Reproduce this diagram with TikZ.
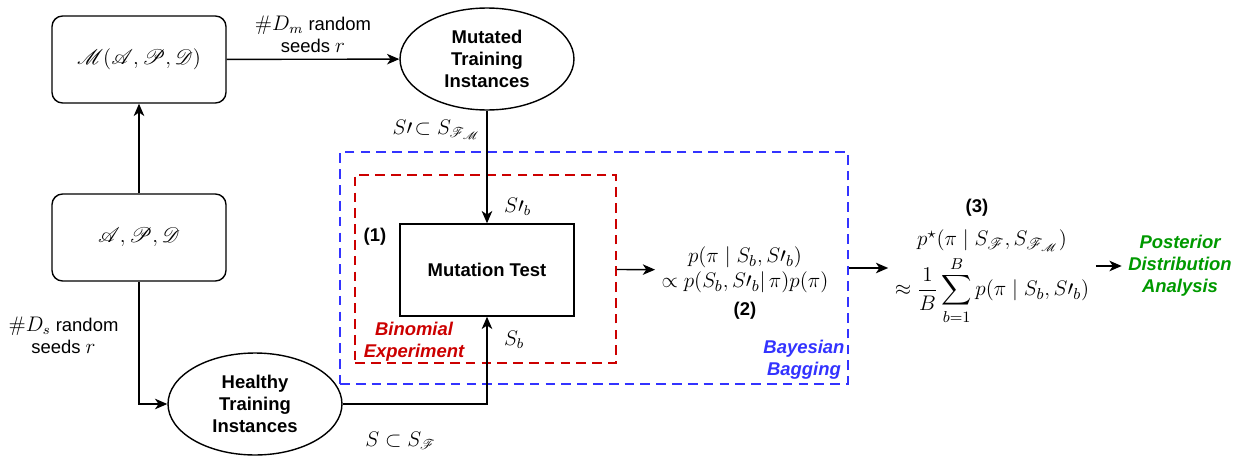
\documentclass[tikz,border=0pt]{standalone}
\usepackage{amsmath}
\usepackage{mathrsfs}
\usepackage[no-math]{fontspec}
\setmainfont{Liberation Sans}
\usetikzlibrary{shapes.geometric,positioning,arrows.meta}
\definecolor{bagblue}{RGB}{51,51,255}
\definecolor{binred}{RGB}{204,0,0}
\definecolor{postgreen}{RGB}{0,153,0}

\begin{document}
\begin{tikzpicture}[x=0.02cm,y=-0.02cm,>={Stealth[length=7pt,width=6pt,inset=2pt]},thick,
	font=\fontsize{10.5}{12.5}\selectfont,
	block/.style={draw,rounded corners=6pt,minimum width=3.48cm,minimum height=1.74cm,font=\fontsize{12.5}{15}\selectfont},
	inst/.style={draw,ellipse,minimum width=3.48cm,minimum height=2.04cm,inner sep=0pt,align=center,font=\fontsize{10.5}{12.5}\selectfont\bfseries},
	testbox/.style={draw,minimum width=3.48cm,minimum height=1.84cm,font=\fontsize{10.5}{12.5}\selectfont\bfseries},
	frame/.style={draw=#1,line width=1.1pt,dash pattern=on 5.5pt off 3.5pt},
	formula/.style={align=center,font=\fontsize{12.5}{15}\selectfont},
	tag/.style={font=\fontsize{10.5}{12.5}\selectfont\bfseries},
	frametext/.style={align=center,text=#1,font=\fontsize{10.5}{12.5}\selectfont\bfseries\itshape}]
	\useasboundingbox (0,0) rectangle (1252,460);
	
	\node[frame=bagblue,minimum width=10.16cm,minimum height=4.64cm] (bag) at (594,268) {};
	\node[frame=binred,minimum width=5.22cm,minimum height=3.76cm] (binom) at (485.5,269) {};
	
	\node[block] (mbox) at (139,59.5) {$\mathscr{M}(\mathscr{A},\mathscr{P},\mathscr{D})$};
	\node[block] (apd)  at (139,237.5) {$\mathscr{A},\mathscr{P},\mathscr{D}$};
	\node[inst]  (mut)  at (487,59) {Mutated\\Training\\Instances};
	\node[inst]  (healthy) at (255,404) {Healthy\\Training\\Instances};
	\node[testbox] (test) at (487,270) {Mutation Test};
	
	\node[formula] (post) at (745,270) {$p(\pi\mid S_b,S\prime_b)$\\[-1pt]$\propto p(S_b,S\prime_b|\,\pi)p(\pi)$};
	\node[formula] (bayes) at (992,277) {$p^\star(\pi\mid S_{\mathscr{F}},S_{\mathscr{F}_{\mathscr{M}}})$\\[2pt]$\approx\dfrac{1}{B}\displaystyle\sum_{b=1}^{B}p(\pi\mid S_b,S\prime_b)$};
	\node[frametext=postgreen] (pda) at (1180,266) {Posterior\\Distribution\\Analysis};
	
	\node[tag] (one)   at (375,237) {(1)};
	\node[tag] (two)   at (745,311) {(2)};
	\node[tag] (three) at (977,208) {(3)};
	\node[frametext=binred]  (binlab) at (414,342) {Binomial\\Experiment};
	\node[frametext=bagblue] (baglab) at (804,360) {Bayesian\\Bagging};
	
	\path[->] (apd) edge (mbox)
	(mbox) edge node[above,align=center] {{\large$\#D_m$} random\\seeds {\large$r$}} (mut)
	(mut) edge node[left,pos=0.17] {\large$S\prime\!\subset S_{\mathscr{F}_{\mathscr{M}}}$} node[right=6pt,pos=0.85] {\large$S\prime_b$} (test)
	(binom) edge (post)
	(bag.east) edge (bag.east -| bayes.west)
	(bayes.east |- pda) edge (pda);
	\draw[->] (apd) |- node[left=8pt,pos=0.22,align=center] {{\large$\#D_s$} random\\seeds {\large$r$}} (healthy);
	\draw[->] (healthy) -| node[below=12pt,pos=0.2] {\large$S\subset S_{\mathscr{F}}$} node[right=6pt,pos=0.87] {\large$S_b$} (test);
\end{tikzpicture}
\end{document}
